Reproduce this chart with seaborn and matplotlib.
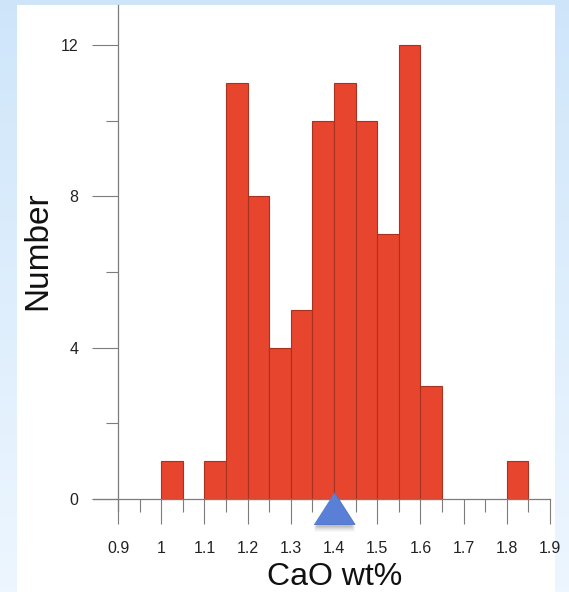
import numpy as np
import pandas as pd
import matplotlib
matplotlib.use("Agg")
import matplotlib.pyplot as plt
from matplotlib.patches import Rectangle
import seaborn as sns

# Histogram of CaO contents (wt%), bins of 0.05 wt%
bin_left = [1.00, 1.10, 1.15, 1.20, 1.25, 1.30, 1.35, 1.40, 1.45, 1.50, 1.55, 1.60, 1.80]
counts = [1, 1, 11, 8, 4, 5, 10, 11, 10, 7, 12, 3, 1]
bin_width = 0.05
mean_cao = 1.40

x_ticks = [0.9, 1.0, 1.1, 1.2, 1.3, 1.4, 1.5, 1.6, 1.7, 1.8, 1.9]
x_tick_labels = ["0.9", "1", "1.1", "1.2", "1.3", "1.4", "1.5", "1.6", "1.7", "1.8", "1.9"]
y_ticks = [0, 4, 8, 12]
y_tick_labels = ["0", "4", "8", "12"]

sns.set_style("white")
plt.rcParams["font.family"] = ["Liberation Sans", "DejaVu Sans"]

W, H = 569, 592
fig = plt.figure(figsize=(W / 100, H / 100), dpi=100)

# soft blue backdrop with a white panel on top
bg = fig.add_axes([0, 0, 1, 1], zorder=-10)
grad = np.linspace(0, 1, 256).reshape(-1, 1)
top_c = np.array([0.81, 0.90, 0.98])
bot_c = np.array([0.93, 0.965, 1.0])
img = top_c[None, None, :] * (1 - grad[:, :, None]) + bot_c[None, None, :] * grad[:, :, None]
bg.imshow(img, aspect="auto", extent=[0, 1, 0, 1])
bg.add_patch(Rectangle((17 / W, 0), (555 - 17) / W, (H - 5) / H,
                       facecolor="white", edgecolor="none"))
bg.set_xlim(0, 1)
bg.set_ylim(0, 1)
bg.axis("off")

# main axes
left_px, right_px, top_px, bot_px = 90, 552, 5, 515
ax = fig.add_axes([left_px / W, (H - bot_px) / H,
                   (right_px - left_px) / W, (bot_px - top_px) / H])
ax.set_facecolor("none")

df = pd.DataFrame({"cao": [b + bin_width / 2 for b in bin_left], "n": counts})
sns.histplot(data=df, x="cao", weights="n", binwidth=bin_width, binrange=(0.9, 1.9),
             ax=ax, color="#e8452e", edgecolor="#a83220", linewidth=0.8,
             alpha=1.0, zorder=2)
for p in ax.patches:
    if p.get_height() == 0:
        p.set_visible(False)

px_per_x = 432.0
px_per_y = (499 - 45) / 12.0
ax.set_xlim(0.9 - (118 - left_px) / px_per_x, 1.9 + (right_px - 550) / px_per_x)
ax.set_ylim(-(bot_px - 499) / px_per_y, (499 - top_px) / px_per_y)

axis_col = "#7c7c7c"
for s in ["top", "right"]:
    ax.spines[s].set_visible(False)
ax.spines["left"].set_position(("data", 0.9))
ax.spines["left"].set_bounds(-(511 - 499) / px_per_y, (499 - top_px) / px_per_y)
ax.spines["bottom"].set_position(("data", 0))
ax.spines["bottom"].set_bounds(0.9 - (118 - 93) / px_per_x, 1.9)
for s in ["left", "bottom"]:
    ax.spines[s].set_color(axis_col)
    ax.spines[s].set_linewidth(0.9)

ax.set_xticks(x_ticks)
ax.set_xticklabels(x_tick_labels)
ax.set_xticks([t + 0.05 for t in x_ticks[:-1]], minor=True)
ax.set_yticks(y_ticks)
ax.set_yticklabels(y_tick_labels)
ax.set_yticks([2, 6, 10], minor=True)

ax.tick_params(axis="x", which="major", direction="out", length=18, width=0.8,
               color=axis_col, pad=12, labelsize=11.5, labelcolor="#222222")
ax.tick_params(axis="x", which="minor", direction="out", length=9.5, width=0.8,
               color=axis_col)
ax.tick_params(axis="y", which="major", direction="out", length=18.5, width=0.8,
               color=axis_col, pad=10, labelsize=11.5, labelcolor="#222222")
ax.tick_params(axis="y", which="minor", direction="out", length=9, width=0.8,
               color=axis_col)
ax.tick_params(bottom=True, left=True, which="both")

ax.set_xlabel("CaO wt%", fontsize=23, color="#111111")
ax.set_ylabel("Number", fontsize=24, color="#111111")
ax.xaxis.set_label_coords((335 - left_px) / (right_px - left_px),
                          (bot_px - 577) / (bot_px - top_px))
ax.xaxis.label.set_va("center")
ax.yaxis.set_label_coords((38 - left_px) / (right_px - left_px),
                          (bot_px - 251) / (bot_px - top_px))
ax.yaxis.label.set_va("center")

# mean marker below the axis, with a soft drop shadow
tri = [(-1, -0.78), (1, -0.78), (0, 0.78)]
mean_y = -(508 - 499) / px_per_y
for dy, a in [(3, 0.18), (5, 0.12), (7, 0.07)]:
    ax.plot([mean_cao], [mean_y - dy / px_per_y], marker=tri, markersize=29.5,
            color="#444444", alpha=a, linestyle="none", clip_on=False, zorder=4,
            markeredgewidth=0)
ax.plot([mean_cao], [mean_y], marker=tri, markersize=29.5,
        color="#5a7fd6", markeredgecolor="#4d70c4", markeredgewidth=0.6,
        linestyle="none", clip_on=False, zorder=5)

fig.savefig("out.png", dpi=100)
